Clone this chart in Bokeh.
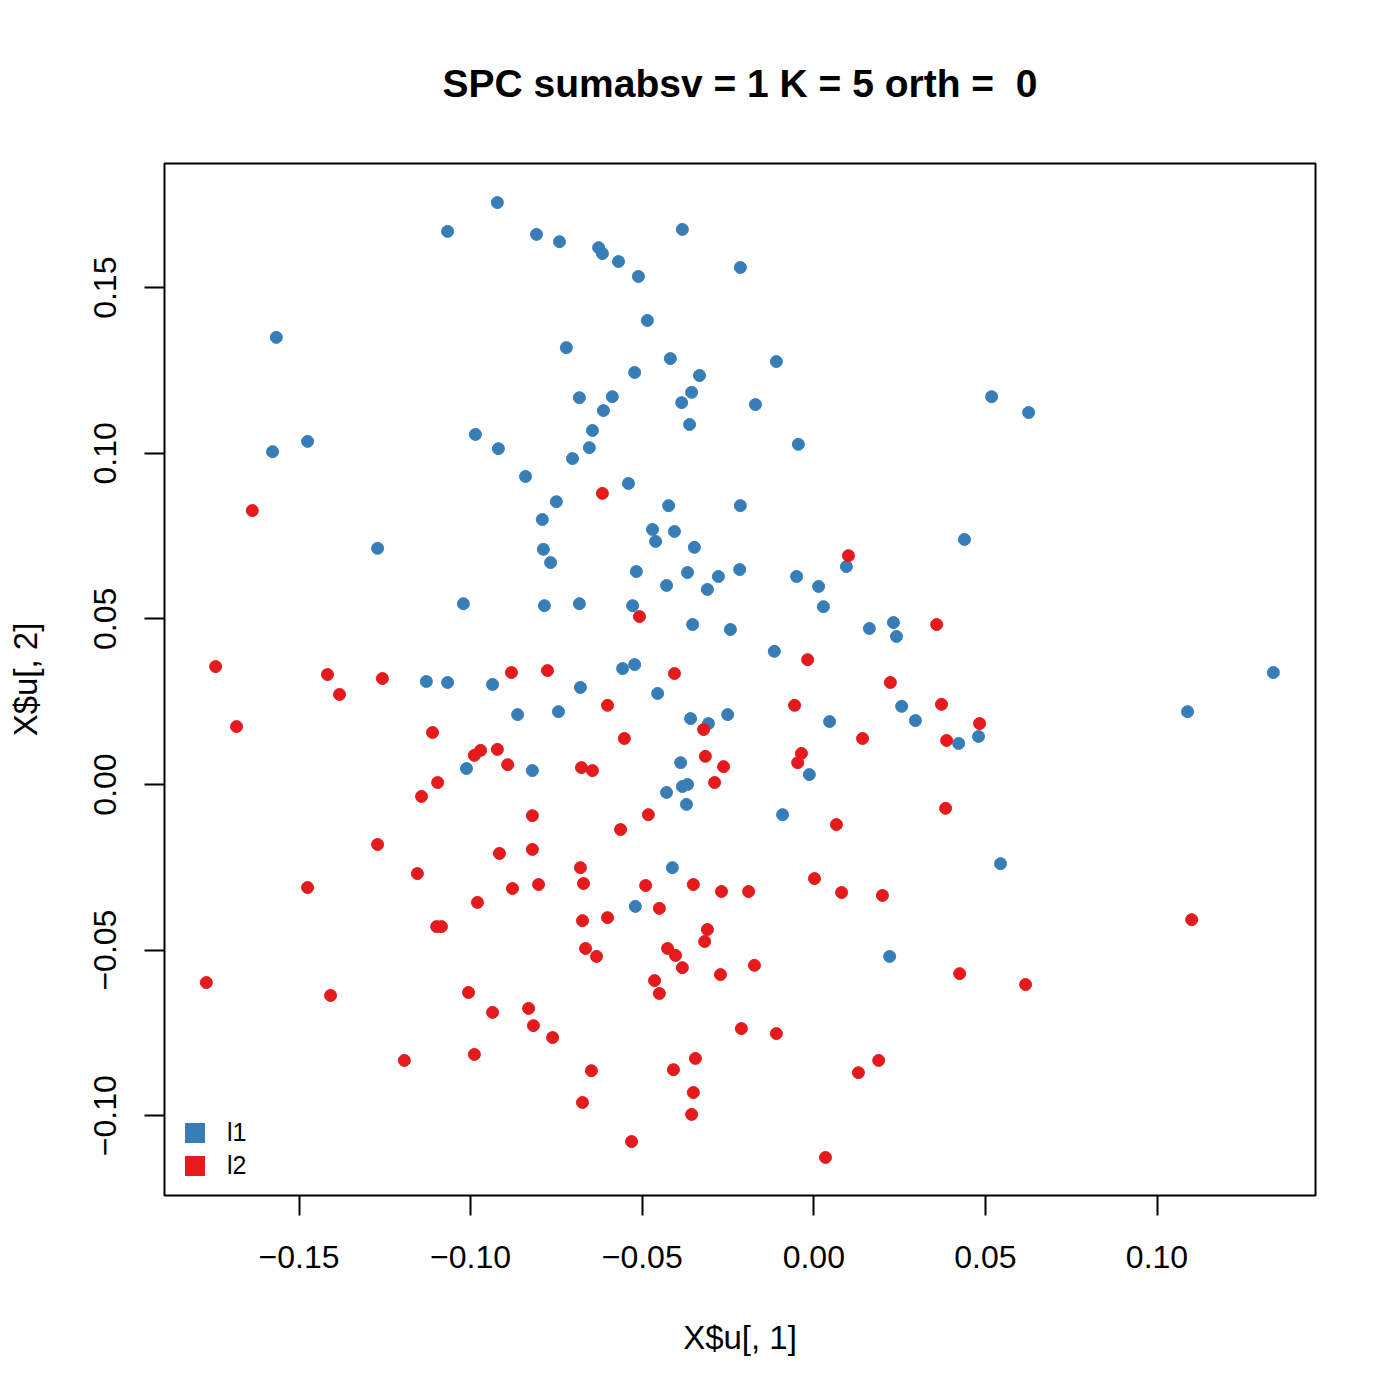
from bokeh.plotting import figure
from bokeh.models import Range1d, FixedTicker, Legend, LegendItem, Title
from bokeh.embed import file_html
from bokeh.resources import INLINE

# ---- data ----
l1_x = [-0.0922, -0.1067, -0.0808, -0.0741, -0.0383, -0.0627, -0.0616, -0.0569, -0.0511, -0.0214,
        -0.1566, -0.0485, -0.0721, -0.0418, -0.0109, -0.0522, -0.0333, -0.0356, -0.0683, -0.0587,
        -0.0385, -0.0170, -0.0613, 0.0518, 0.0626, -0.1475, -0.1577, -0.0986, -0.0645, -0.0362,
        -0.0919, -0.0654, -0.0045, -0.0703, -0.0840, -0.0540, -0.0750, -0.0423, -0.0214, -0.0791,
        -0.0470, -0.0406, -0.0461, 0.0439, -0.0348, -0.1271, -0.0788, -0.0767, 0.0095, -0.0517,
        -0.0216, -0.0368, -0.0278, -0.0050, -0.0429, 0.0014, -0.0310, -0.1021, -0.0683, -0.0528,
        -0.0785, 0.0028, -0.0353, 0.0232, 0.0162, 0.0241, -0.0243, -0.0115, -0.0522, -0.0557,
        0.1339, -0.1129, -0.1067, -0.0936, -0.0455, -0.0680, -0.0863, -0.0744, -0.0359, -0.0251,
        -0.0307, 0.0046, 0.0256, 0.0296, 0.1089, 0.0422, 0.0480, -0.1012, -0.0820, -0.0388,
        -0.0383, -0.0368, -0.0429, -0.0371, -0.0013, -0.0091, -0.0412, 0.0544, -0.0520, 0.0221]
l1_y = [0.1757, 0.1670, 0.1661, 0.1639, 0.1676, 0.1621, 0.1603, 0.1579, 0.1534, 0.1561,
        0.1350, 0.1401, 0.1319, 0.1286, 0.1277, 0.1244, 0.1235, 0.1184, 0.1168, 0.1171,
        0.1153, 0.1147, 0.1129, 0.1171, 0.1123, 0.1036, 0.1005, 0.1057, 0.1069, 0.1087,
        0.1014, 0.1017, 0.1027, 0.0984, 0.0930, 0.0909, 0.0854, 0.0842, 0.0842, 0.0800,
        0.0770, 0.0764, 0.0734, 0.0740, 0.0716, 0.0713, 0.0710, 0.0670, 0.0658, 0.0643,
        0.0649, 0.0640, 0.0628, 0.0628, 0.0601, 0.0598, 0.0589, 0.0546, 0.0546, 0.0540,
        0.0540, 0.0537, 0.0483, 0.0489, 0.0471, 0.0447, 0.0468, 0.0402, 0.0362, 0.0350,
        0.0338, 0.0311, 0.0308, 0.0302, 0.0275, 0.0293, 0.0211, 0.0220, 0.0199, 0.0211,
        0.0184, 0.0190, 0.0236, 0.0193, 0.0220, 0.0124, 0.0145, 0.0048, 0.0042, 0.0066,
        -0.0006, 0.0000, -0.0024, -0.0060, 0.0030, -0.0091, -0.0251, -0.0239, -0.0368, -0.0519]

l2_x = [-0.1636, -0.0616, 0.0101, -0.0508, 0.0358, -0.1743, -0.1417, -0.1382, -0.1257, -0.0881,
        -0.0776, -0.0018, -0.0406, 0.0223, -0.0601, -0.0056, 0.0372, -0.1682, -0.1111, -0.0321,
        0.0483, 0.0387, -0.0989, -0.0971, -0.0922, -0.0892, -0.0552, 0.0142, -0.0036, -0.0047,
        -0.0316, -0.0263, -0.0677, -0.0645, -0.1096, -0.1143, -0.0289, -0.0820, -0.0482, -0.0563,
        0.0066, 0.0384, -0.1271, -0.0916, -0.0820, -0.1155, -0.1475, -0.0878, -0.0802, -0.0980,
        -0.1099, -0.1085, -0.1770, -0.1408, -0.1006, -0.0936, -0.0831, -0.0817, -0.0761, -0.1193,
        -0.0989, -0.0680, -0.0671, -0.0490, -0.0351, -0.0269, -0.0190, 0.0002, 0.0081, 0.0200,
        -0.0450, -0.0674, -0.0601, -0.0310, -0.0318, -0.0665, -0.0633, -0.0426, -0.0403, -0.0383,
        -0.0272, -0.0173, -0.0464, -0.0450, -0.0211, -0.0109, -0.0345, -0.0409, -0.0648, 0.0189,
        0.0130, -0.0674, -0.0351, -0.0356, -0.0531, 0.0034, 0.1101, 0.0425, 0.0617]
l2_y = [0.0827, 0.0879, 0.0691, 0.0507, 0.0483, 0.0356, 0.0332, 0.0272, 0.0320, 0.0338,
        0.0344, 0.0377, 0.0335, 0.0308, 0.0239, 0.0239, 0.0242, 0.0175, 0.0157, 0.0166,
        0.0184, 0.0133, 0.0088, 0.0103, 0.0106, 0.0060, 0.0139, 0.0139, 0.0094, 0.0066,
        0.0085, 0.0054, 0.0051, 0.0042, 0.0006, -0.0036, 0.0006, -0.0094, -0.0091, -0.0136,
        -0.0121, -0.0072, -0.0181, -0.0208, -0.0196, -0.0269, -0.0311, -0.0314, -0.0302, -0.0356,
        -0.0429, -0.0429, -0.0598, -0.0637, -0.0628, -0.0688, -0.0676, -0.0728, -0.0764, -0.0833,
        -0.0815, -0.0251, -0.0299, -0.0305, -0.0302, -0.0323, -0.0323, -0.0284, -0.0326, -0.0335,
        -0.0374, -0.0411, -0.0402, -0.0438, -0.0474, -0.0495, -0.0519, -0.0495, -0.0516, -0.0553,
        -0.0574, -0.0546, -0.0592, -0.0631, -0.0737, -0.0752, -0.0827, -0.0861, -0.0864, -0.0833,
        -0.0870, -0.0960, -0.0930, -0.0996, -0.1078, -0.1126, -0.0408, -0.0571, -0.0604]

x_ticks = [-0.15, -0.10, -0.05, 0.00, 0.05, 0.10]
y_ticks = [-0.10, -0.05, 0.00, 0.05, 0.10, 0.15]
x_tick_labels = ["\u22120.15", "\u22120.10", "\u22120.05", "0.00", "0.05", "0.10"]
y_tick_labels = ["\u22120.10", "\u22120.05", "0.00", "0.05", "0.10", "0.15"]
group_names = ["l1", "l2"]
group_colors = ["#377EB8", "#E41A1C"]

# second space kept visible with a no-break space (SVG collapses runs of spaces)
title_text = "SPC sumabsv = 1 K = 5 orth = \u00a00"
x_label = "X$u[, 1]"
y_label = "X$u[, 2]"

FONT = "Liberation Sans"

p = figure(width=1384, height=1384, output_backend="svg", toolbar_location=None,
           x_range=Range1d(-0.18919, 0.14618), y_range=Range1d(-0.12409, 0.18750),
           min_border_left=164, min_border_right=69, min_border_top=163, min_border_bottom=189)

p.title.visible = False
t = Title(text=title_text, align="center", text_font=FONT, text_font_size="39px",
          text_font_style="bold", text_color="black", standoff=118)
p.add_layout(t, "above")

p.background_fill_color = "white"
p.border_fill_color = "white"
p.outline_line_color = "black"
p.outline_line_width = 2
p.xgrid.visible = False
p.ygrid.visible = False

for ax, ticks, labels in ((p.xaxis[0], x_ticks, x_tick_labels), (p.yaxis[0], y_ticks, y_tick_labels)):
    ax.ticker = FixedTicker(ticks=ticks, minor_ticks=[])
    ax.major_label_overrides = {v: s for v, s in zip(ticks, labels)}
    ax.axis_line_color = None
    ax.major_tick_out = 20
    ax.major_tick_in = 0
    ax.major_tick_line_color = "black"
    ax.major_tick_line_width = 2
    ax.minor_tick_line_color = None
    ax.major_label_text_font = FONT
    ax.major_label_text_font_size = "32px"
    ax.major_label_text_color = "black"
    ax.axis_label_text_font = FONT
    ax.axis_label_text_font_size = "33px"
    ax.axis_label_text_font_style = "normal"
    ax.axis_label_text_color = "black"

p.xaxis[0].axis_label = x_label
p.yaxis[0].axis_label = y_label
p.xaxis[0].major_label_standoff = 30
p.yaxis[0].major_label_standoff = 28
p.yaxis[0].major_label_orientation = "vertical"
p.xaxis[0].axis_label_standoff = 48
p.yaxis[0].axis_label_standoff = 48

p.scatter(l1_x, l1_y, size=12, fill_color=group_colors[0], line_color=group_colors[0])
p.scatter(l2_x, l2_y, size=12, fill_color=group_colors[1], line_color=group_colors[1])

nan = float("nan")
items = []
for name, col in zip(group_names, group_colors):
    r = p.rect(x=[nan], y=[nan], width=[0.01], height=[0.01], fill_color=col, line_color=None)
    items.append(LegendItem(label=name, renderers=[r]))

leg = Legend(items=items, location=(18, 15), orientation="vertical",
             glyph_width=25, glyph_height=25, label_height=25, spacing=4,
             padding=0, margin=0, label_standoff=20,
             label_text_font=FONT, label_text_font_size="25px", label_text_color="black",
             border_line_color=None, background_fill_alpha=0)
p.add_layout(leg, "center")

open("out.html", "w").write(file_html(p, INLINE))
